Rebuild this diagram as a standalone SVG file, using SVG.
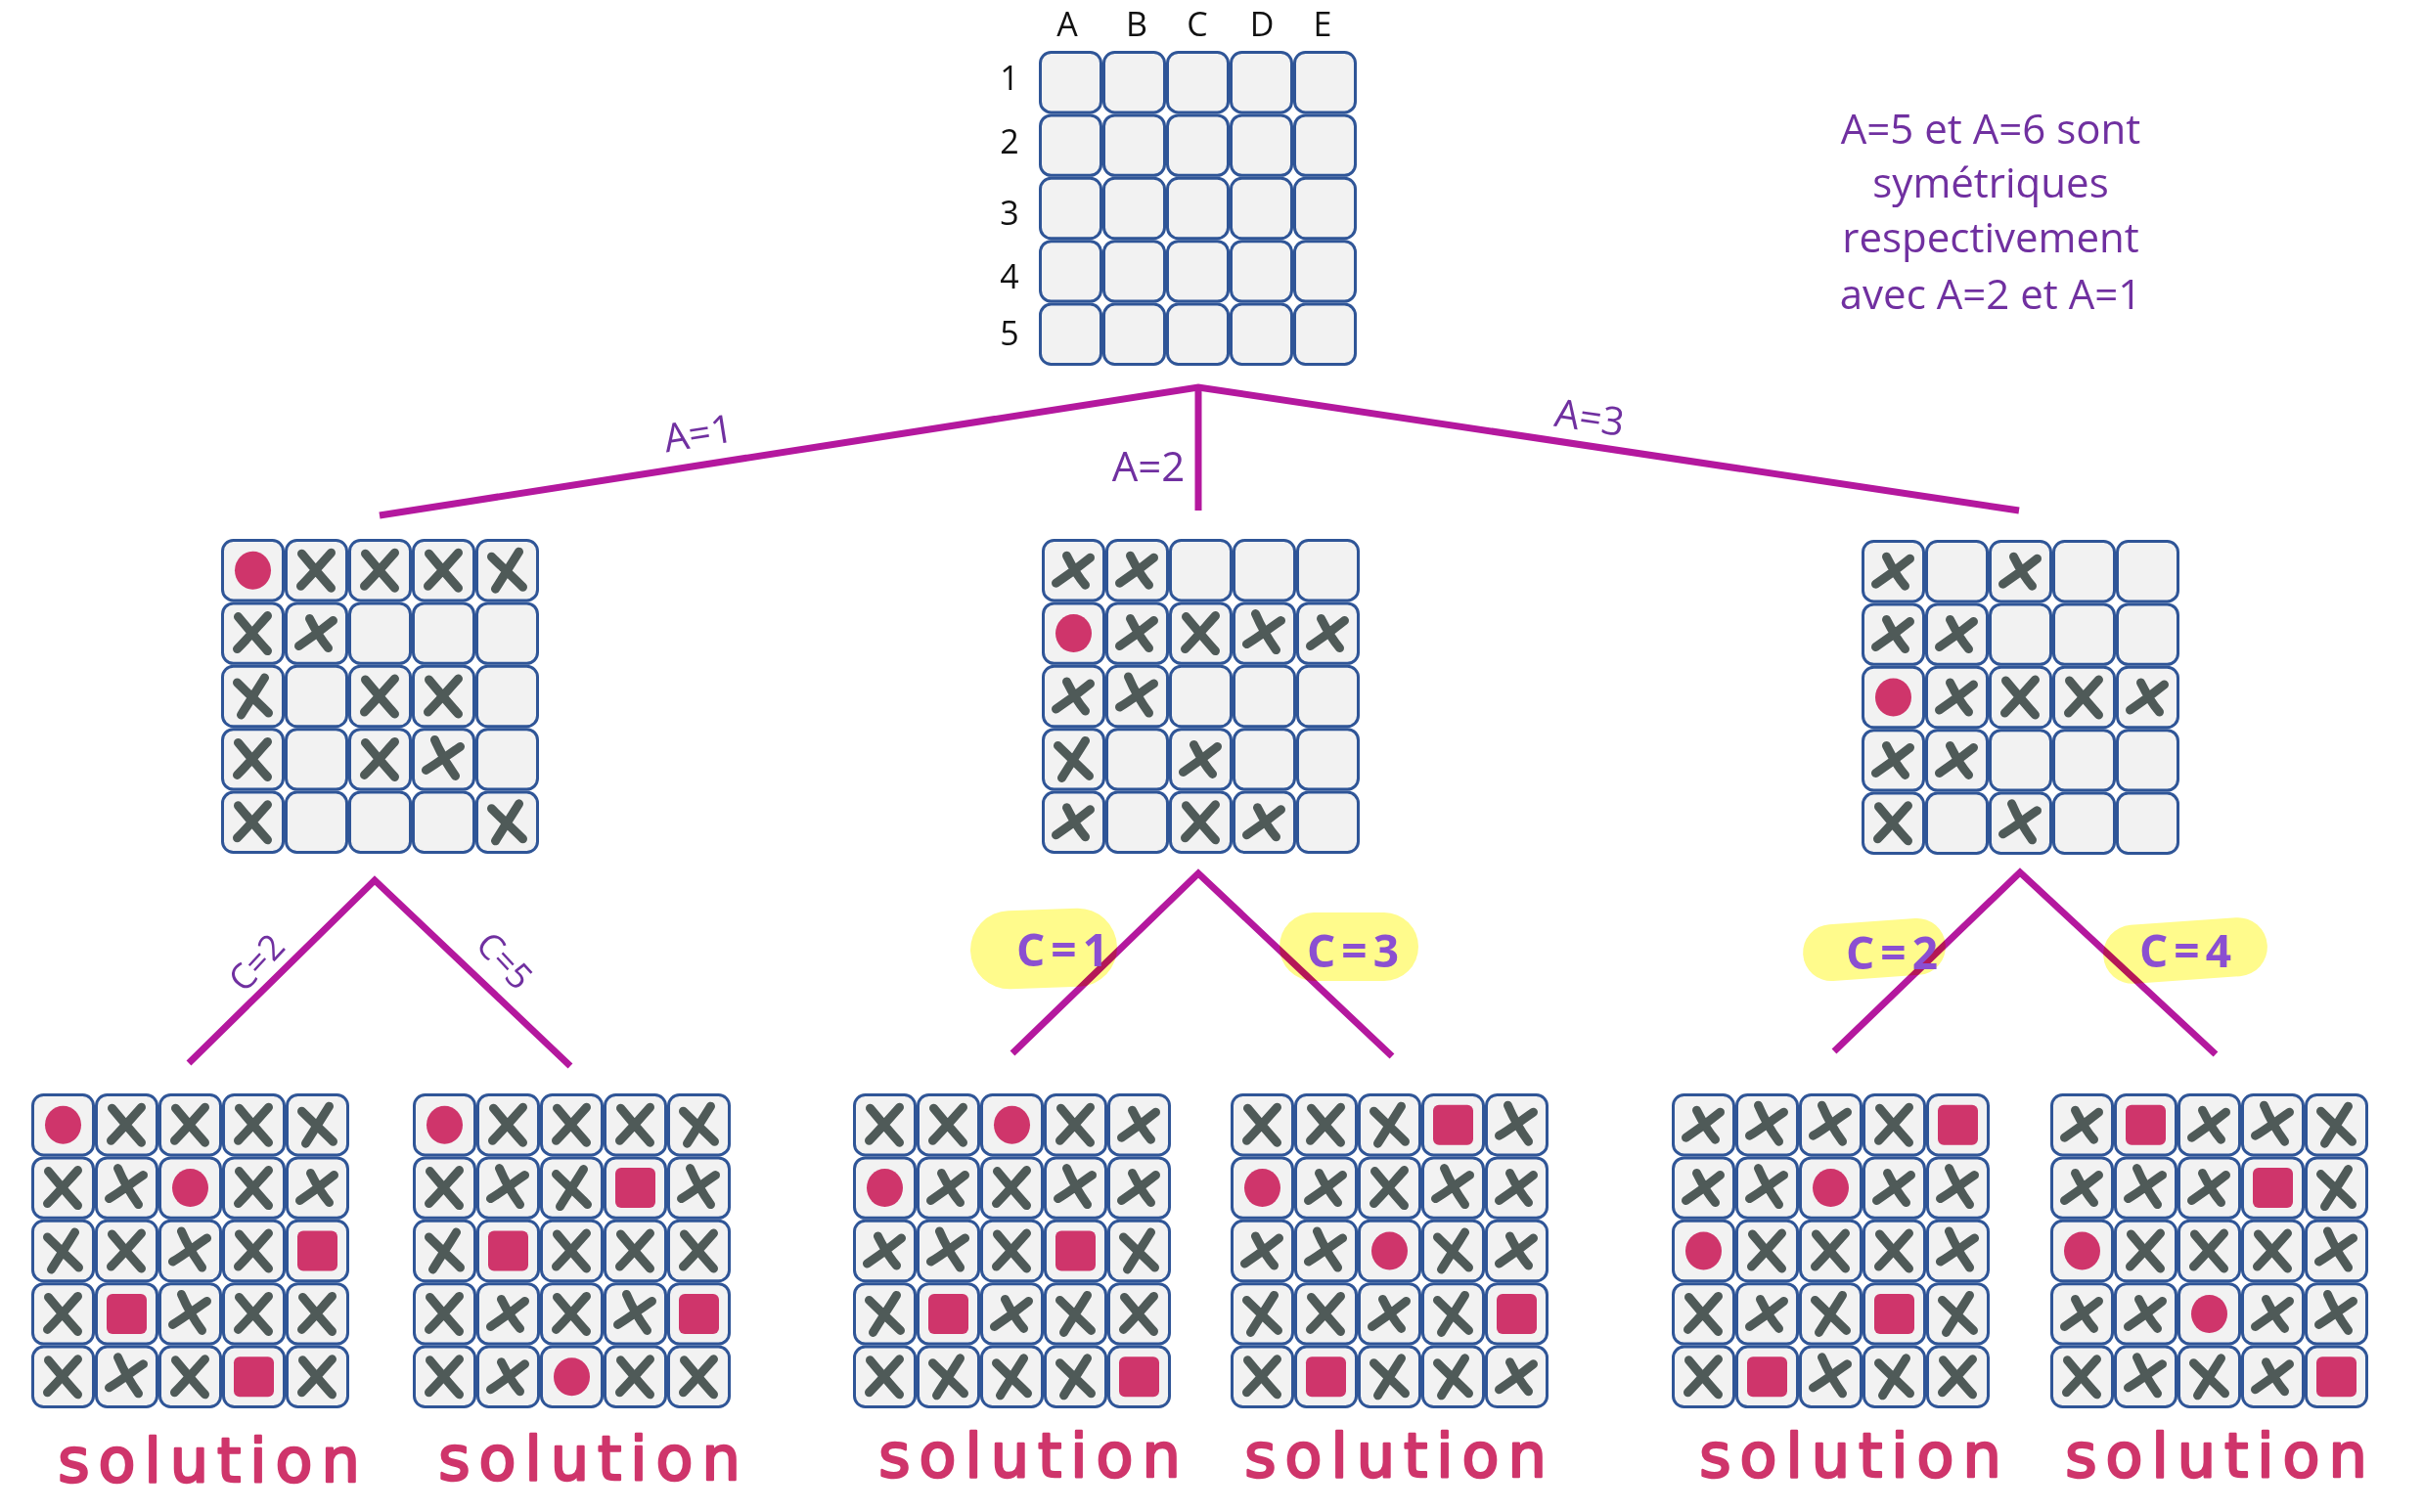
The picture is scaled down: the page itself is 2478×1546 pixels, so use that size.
<svg xmlns="http://www.w3.org/2000/svg" xmlns:xlink="http://www.w3.org/1999/xlink" width="2478" height="1546" viewBox="0 0 2478 1546">
<style>
.cell{fill:#f2f2f2;stroke:#2f5597;stroke-width:3}
.xm{fill:none;stroke:#4f5a58;stroke-width:9;stroke-linecap:round;stroke-linejoin:round}
.red{fill:#cf356b}
.edge{fill:none;stroke:#b4189e;stroke-width:7;stroke-linejoin:miter}
.lbl{font-family:"Open Sans","Liberation Sans",sans-serif;fill:#7030a0}
.hl{fill:#fffb8c;mix-blend-mode:multiply}
.hw{font-family:"Open Sans","Liberation Sans",sans-serif;font-weight:700;fill:#8b4fd1;font-size:46px;letter-spacing:6px}
.sol{font-family:"DejaVu Sans",sans-serif;font-weight:400;fill:#cf356b;stroke:#cf356b;stroke-width:2.5;stroke-linejoin:round;font-size:62px;letter-spacing:9px}
.hdr{font-family:"Open Sans","Liberation Sans",sans-serif;font-size:34px;fill:#111;text-anchor:middle}
</style>
<defs>
<g id="grid">
<rect class="cell" x="1.5" y="1.5" width="62" height="61.4" rx="11"/><rect class="cell" x="66.5" y="1.5" width="62" height="61.4" rx="11"/><rect class="cell" x="131.5" y="1.5" width="62" height="61.4" rx="11"/><rect class="cell" x="196.5" y="1.5" width="62" height="61.4" rx="11"/><rect class="cell" x="261.5" y="1.5" width="62" height="61.4" rx="11"/>
<rect class="cell" x="1.5" y="65.9" width="62" height="61.4" rx="11"/><rect class="cell" x="66.5" y="65.9" width="62" height="61.4" rx="11"/><rect class="cell" x="131.5" y="65.9" width="62" height="61.4" rx="11"/><rect class="cell" x="196.5" y="65.9" width="62" height="61.4" rx="11"/><rect class="cell" x="261.5" y="65.9" width="62" height="61.4" rx="11"/>
<rect class="cell" x="1.5" y="130.3" width="62" height="61.4" rx="11"/><rect class="cell" x="66.5" y="130.3" width="62" height="61.4" rx="11"/><rect class="cell" x="131.5" y="130.3" width="62" height="61.4" rx="11"/><rect class="cell" x="196.5" y="130.3" width="62" height="61.4" rx="11"/><rect class="cell" x="261.5" y="130.3" width="62" height="61.4" rx="11"/>
<rect class="cell" x="1.5" y="194.7" width="62" height="61.4" rx="11"/><rect class="cell" x="66.5" y="194.7" width="62" height="61.4" rx="11"/><rect class="cell" x="131.5" y="194.7" width="62" height="61.4" rx="11"/><rect class="cell" x="196.5" y="194.7" width="62" height="61.4" rx="11"/><rect class="cell" x="261.5" y="194.7" width="62" height="61.4" rx="11"/>
<rect class="cell" x="1.5" y="259.1" width="62" height="61.4" rx="11"/><rect class="cell" x="66.5" y="259.1" width="62" height="61.4" rx="11"/><rect class="cell" x="131.5" y="259.1" width="62" height="61.4" rx="11"/><rect class="cell" x="196.5" y="259.1" width="62" height="61.4" rx="11"/><rect class="cell" x="261.5" y="259.1" width="62" height="61.4" rx="11"/>
</g>
<path id="xa" class="xm" d="M-15,-17 C-5,-5 5,7 15,18 M15,-18 C5,-7 -5,5 -16,16"/>
<path id="xb" class="xm" d="M-9,-20 C-3,-6 4,6 12,17 M17,-13 C5,-5 -6,4 -18,11"/>
<path id="xc" class="xm" d="M-18,13 C-6,5 6,-4 17,-13 M-7,-15 C-1,-3 5,7 12,15"/>
<path id="xd" class="xm" d="M-16,-14 C-5,-3 5,6 16,17 M12,-19 C4,-6 -4,6 -12,19"/>
<ellipse id="dot" class="red" cx="0" cy="0" rx="18.5" ry="19.5"/>
<rect id="sq" class="red" x="-20.5" y="-20.5" width="41" height="41" rx="6"/>
</defs>

<g id="connectors">
<polyline class="edge" points="388,527 1225,396 2064,522"/>
<line class="edge" x1="1225" y1="396" x2="1225" y2="522"/>
<polyline class="edge" points="193,1087 383,900 583,1090"/>
<polyline class="edge" points="1035,1077 1225,893 1423,1080"/>
<polyline class="edge" points="1875,1075 2065,892 2265,1078"/>
</g>

<g id="edge-labels">
<text class="lbl" font-size="40" text-anchor="middle" x="714" y="457" transform="rotate(-9 714 443)">A=1</text>
<text class="lbl" font-size="42" text-anchor="middle" x="1174" y="492">A=2</text>
<text class="lbl" font-size="40" text-anchor="middle" x="1625" y="441" transform="rotate(8.5 1625 427)">A=3</text>
<text class="lbl" font-size="36" text-anchor="middle" x="262" y="997" transform="rotate(-47 262 984)">C=2</text>
<text class="lbl" font-size="36" text-anchor="middle" x="516" y="995" transform="rotate(47 516 982)">C=5</text>
<rect class="hl" x="992" y="930" width="150" height="80" rx="40" transform="rotate(-2 1067 970)"/>
<rect class="hl" x="1308" y="933" width="142" height="70" rx="35"/>
<rect class="hl" x="1843" y="942" width="146" height="58" rx="29" transform="rotate(-4 1916 971)"/>
<rect class="hl" x="2150" y="942" width="168" height="60" rx="30" transform="rotate(-4 2234 972)"/>
<text class="hw" text-anchor="middle" x="1089" y="988">C=1</text>
<text class="hw" text-anchor="middle" x="1386" y="989">C=3</text>
<text class="hw" text-anchor="middle" x="1937" y="991">C=2</text>
<text class="hw" text-anchor="middle" x="2237" y="989">C=4</text>
</g>

<g id="note">
<text class="lbl" font-size="42" text-anchor="middle" x="2035" y="147">A=5 et A=6 sont</text>
<text class="lbl" font-size="42" text-anchor="middle" x="2035" y="202">symétriques</text>
<text class="lbl" font-size="42" text-anchor="middle" x="2035" y="258">respectivement</text>
<text class="lbl" font-size="42" text-anchor="middle" x="2035" y="316">avec A=2 et A=1</text>
</g>

<g id="root">
<text class="hdr" x="1091" y="37">A</text><text class="hdr" x="1162" y="37">B</text><text class="hdr" x="1224" y="37">C</text><text class="hdr" x="1290" y="37">D</text><text class="hdr" x="1352" y="37">E</text>
<text class="hdr" x="1032" y="92">1</text><text class="hdr" x="1032" y="157">2</text><text class="hdr" x="1032" y="230">3</text><text class="hdr" x="1032" y="295">4</text><text class="hdr" x="1032" y="353">5</text>
<use href="#grid" x="1062" y="52"/>
</g>

<g id="node-a1" transform="translate(226,551)">
<use href="#grid"/>
<use href="#dot" x="32.5" y="32.2"/><use href="#xa" x="97.5" y="32.2"/><use href="#xa" x="162.5" y="32.2"/><use href="#xa" x="227.5" y="32.2"/><use href="#xd" x="292.5" y="32.2"/>
<use href="#xa" x="32.5" y="96.6"/><use href="#xc" x="97.5" y="96.6"/>
<use href="#xd" x="32.5" y="161"/><use href="#xa" x="162.5" y="161"/><use href="#xa" x="227.5" y="161"/>
<use href="#xa" x="32.5" y="225.4"/><use href="#xa" x="162.5" y="225.4"/><use href="#xb" x="227.5" y="225.4"/>
<use href="#xa" x="32.5" y="289.8"/><use href="#xd" x="292.5" y="289.8"/>
</g>

<g id="node-a2" transform="translate(1065,551)">
<use href="#grid"/>
<use href="#xc" x="32.5" y="32.2"/><use href="#xc" x="97.5" y="32.2"/>
<use href="#dot" x="32.5" y="96.6"/><use href="#xc" x="97.5" y="96.6"/><use href="#xa" x="162.5" y="96.6"/><use href="#xb" x="227.5" y="96.6"/><use href="#xc" x="292.5" y="96.6"/>
<use href="#xc" x="32.5" y="161"/><use href="#xb" x="97.5" y="161"/>
<use href="#xd" x="32.5" y="225.4"/><use href="#xc" x="162.5" y="225.4"/>
<use href="#xc" x="32.5" y="289.8"/><use href="#xa" x="162.5" y="289.8"/><use href="#xc" x="227.5" y="289.8"/>
</g>

<g id="node-a3" transform="translate(1903,552)">
<use href="#grid"/>
<use href="#xc" x="32.5" y="32.2"/><use href="#xc" x="162.5" y="32.2"/>
<use href="#xc" x="32.5" y="96.6"/><use href="#xc" x="97.5" y="96.6"/>
<use href="#dot" x="32.5" y="161"/><use href="#xc" x="97.5" y="161"/><use href="#xa" x="162.5" y="161"/><use href="#xa" x="227.5" y="161"/><use href="#xc" x="292.5" y="161"/>
<use href="#xc" x="32.5" y="225.4"/><use href="#xc" x="97.5" y="225.4"/>
<use href="#xa" x="32.5" y="289.8"/><use href="#xb" x="162.5" y="289.8"/>
</g>

<g id="sol-1" transform="translate(32,1118)">
<use href="#grid"/>
<use href="#dot" x="32.5" y="32.2"/><use href="#xa" x="97.5" y="32.2"/><use href="#xa" x="162.5" y="32.2"/><use href="#xa" x="227.5" y="32.2"/><use href="#xd" x="292.5" y="32.2"/>
<use href="#xa" x="32.5" y="96.6"/><use href="#xb" x="97.5" y="96.6"/><use href="#dot" x="162.5" y="96.6"/><use href="#xa" x="227.5" y="96.6"/><use href="#xc" x="292.5" y="96.6"/>
<use href="#xd" x="32.5" y="161"/><use href="#xa" x="97.5" y="161"/><use href="#xb" x="162.5" y="161"/><use href="#xa" x="227.5" y="161"/><use href="#sq" x="292.5" y="161"/>
<use href="#xa" x="32.5" y="225.4"/><use href="#sq" x="97.5" y="225.4"/><use href="#xb" x="162.5" y="225.4"/><use href="#xa" x="227.5" y="225.4"/><use href="#xa" x="292.5" y="225.4"/>
<use href="#xa" x="32.5" y="289.8"/><use href="#xb" x="97.5" y="289.8"/><use href="#xa" x="162.5" y="289.8"/><use href="#sq" x="227.5" y="289.8"/><use href="#xa" x="292.5" y="289.8"/>
<text class="sol" text-anchor="middle" x="186" y="397">solution</text>
</g>

<g id="sol-2" transform="translate(422,1118)">
<use href="#grid"/>
<use href="#dot" x="32.5" y="32.2"/><use href="#xa" x="97.5" y="32.2"/><use href="#xa" x="162.5" y="32.2"/><use href="#xa" x="227.5" y="32.2"/><use href="#xd" x="292.5" y="32.2"/>
<use href="#xa" x="32.5" y="96.6"/><use href="#xb" x="97.5" y="96.6"/><use href="#xd" x="162.5" y="96.6"/><use href="#sq" x="227.5" y="96.6"/><use href="#xb" x="292.5" y="96.6"/>
<use href="#xd" x="32.5" y="161"/><use href="#sq" x="97.5" y="161"/><use href="#xa" x="162.5" y="161"/><use href="#xa" x="227.5" y="161"/><use href="#xa" x="292.5" y="161"/>
<use href="#xa" x="32.5" y="225.4"/><use href="#xc" x="97.5" y="225.4"/><use href="#xa" x="162.5" y="225.4"/><use href="#xb" x="227.5" y="225.4"/><use href="#sq" x="292.5" y="225.4"/>
<use href="#xa" x="32.5" y="289.8"/><use href="#xc" x="97.5" y="289.8"/><use href="#dot" x="162.5" y="289.8"/><use href="#xa" x="227.5" y="289.8"/><use href="#xa" x="292.5" y="289.8"/>
<text class="sol" text-anchor="middle" x="185" y="395">solution</text>
</g>

<g id="sol-3" transform="translate(872,1118)">
<use href="#grid"/>
<use href="#xa" x="32.5" y="32.2"/><use href="#xa" x="97.5" y="32.2"/><use href="#dot" x="162.5" y="32.2"/><use href="#xa" x="227.5" y="32.2"/><use href="#xc" x="292.5" y="32.2"/>
<use href="#dot" x="32.5" y="96.6"/><use href="#xc" x="97.5" y="96.6"/><use href="#xa" x="162.5" y="96.6"/><use href="#xb" x="227.5" y="96.6"/><use href="#xc" x="292.5" y="96.6"/>
<use href="#xc" x="32.5" y="161"/><use href="#xb" x="97.5" y="161"/><use href="#xa" x="162.5" y="161"/><use href="#sq" x="227.5" y="161"/><use href="#xd" x="292.5" y="161"/>
<use href="#xd" x="32.5" y="225.4"/><use href="#sq" x="97.5" y="225.4"/><use href="#xc" x="162.5" y="225.4"/><use href="#xd" x="227.5" y="225.4"/><use href="#xa" x="292.5" y="225.4"/>
<use href="#xa" x="32.5" y="289.8"/><use href="#xd" x="97.5" y="289.8"/><use href="#xd" x="162.5" y="289.8"/><use href="#xd" x="227.5" y="289.8"/><use href="#sq" x="292.5" y="289.8"/>
<text class="sol" text-anchor="middle" x="185" y="392">solution</text>
</g>

<g id="sol-4" transform="translate(1258,1118)">
<use href="#grid"/>
<use href="#xa" x="32.5" y="32.2"/><use href="#xa" x="97.5" y="32.2"/><use href="#xd" x="162.5" y="32.2"/><use href="#sq" x="227.5" y="32.2"/><use href="#xb" x="292.5" y="32.2"/>
<use href="#dot" x="32.5" y="96.6"/><use href="#xc" x="97.5" y="96.6"/><use href="#xa" x="162.5" y="96.6"/><use href="#xb" x="227.5" y="96.6"/><use href="#xc" x="292.5" y="96.6"/>
<use href="#xc" x="32.5" y="161"/><use href="#xb" x="97.5" y="161"/><use href="#dot" x="162.5" y="161"/><use href="#xd" x="227.5" y="161"/><use href="#xc" x="292.5" y="161"/>
<use href="#xd" x="32.5" y="225.4"/><use href="#xa" x="97.5" y="225.4"/><use href="#xc" x="162.5" y="225.4"/><use href="#xd" x="227.5" y="225.4"/><use href="#sq" x="292.5" y="225.4"/>
<use href="#xa" x="32.5" y="289.8"/><use href="#sq" x="97.5" y="289.8"/><use href="#xd" x="162.5" y="289.8"/><use href="#xd" x="227.5" y="289.8"/><use href="#xc" x="292.5" y="289.8"/>
<text class="sol" text-anchor="middle" x="173" y="392">solution</text>
</g>

<g id="sol-5" transform="translate(1709,1118)">
<use href="#grid"/>
<use href="#xc" x="32.5" y="32.2"/><use href="#xb" x="97.5" y="32.2"/><use href="#xb" x="162.5" y="32.2"/><use href="#xa" x="227.5" y="32.2"/><use href="#sq" x="292.5" y="32.2"/>
<use href="#xc" x="32.5" y="96.6"/><use href="#xb" x="97.5" y="96.6"/><use href="#dot" x="162.5" y="96.6"/><use href="#xc" x="227.5" y="96.6"/><use href="#xb" x="292.5" y="96.6"/>
<use href="#dot" x="32.5" y="161"/><use href="#xa" x="97.5" y="161"/><use href="#xa" x="162.5" y="161"/><use href="#xa" x="227.5" y="161"/><use href="#xb" x="292.5" y="161"/>
<use href="#xa" x="32.5" y="225.4"/><use href="#xc" x="97.5" y="225.4"/><use href="#xd" x="162.5" y="225.4"/><use href="#sq" x="227.5" y="225.4"/><use href="#xd" x="292.5" y="225.4"/>
<use href="#xa" x="32.5" y="289.8"/><use href="#sq" x="97.5" y="289.8"/><use href="#xb" x="162.5" y="289.8"/><use href="#xd" x="227.5" y="289.8"/><use href="#xa" x="292.5" y="289.8"/>
<text class="sol" text-anchor="middle" x="187" y="392">solution</text>
</g>

<g id="sol-6" transform="translate(2096,1118)">
<use href="#grid"/>
<use href="#xc" x="32.5" y="32.2"/><use href="#sq" x="97.5" y="32.2"/><use href="#xc" x="162.5" y="32.2"/><use href="#xb" x="227.5" y="32.2"/><use href="#xd" x="292.5" y="32.2"/>
<use href="#xc" x="32.5" y="96.6"/><use href="#xb" x="97.5" y="96.6"/><use href="#xc" x="162.5" y="96.6"/><use href="#sq" x="227.5" y="96.6"/><use href="#xd" x="292.5" y="96.6"/>
<use href="#dot" x="32.5" y="161"/><use href="#xa" x="97.5" y="161"/><use href="#xa" x="162.5" y="161"/><use href="#xa" x="227.5" y="161"/><use href="#xb" x="292.5" y="161"/>
<use href="#xc" x="32.5" y="225.4"/><use href="#xc" x="97.5" y="225.4"/><use href="#dot" x="162.5" y="225.4"/><use href="#xc" x="227.5" y="225.4"/><use href="#xb" x="292.5" y="225.4"/>
<use href="#xa" x="32.5" y="289.8"/><use href="#xb" x="97.5" y="289.8"/><use href="#xd" x="162.5" y="289.8"/><use href="#xc" x="227.5" y="289.8"/><use href="#sq" x="292.5" y="289.8"/>
<text class="sol" text-anchor="middle" x="174" y="392">solution</text>
</g>
</svg>
